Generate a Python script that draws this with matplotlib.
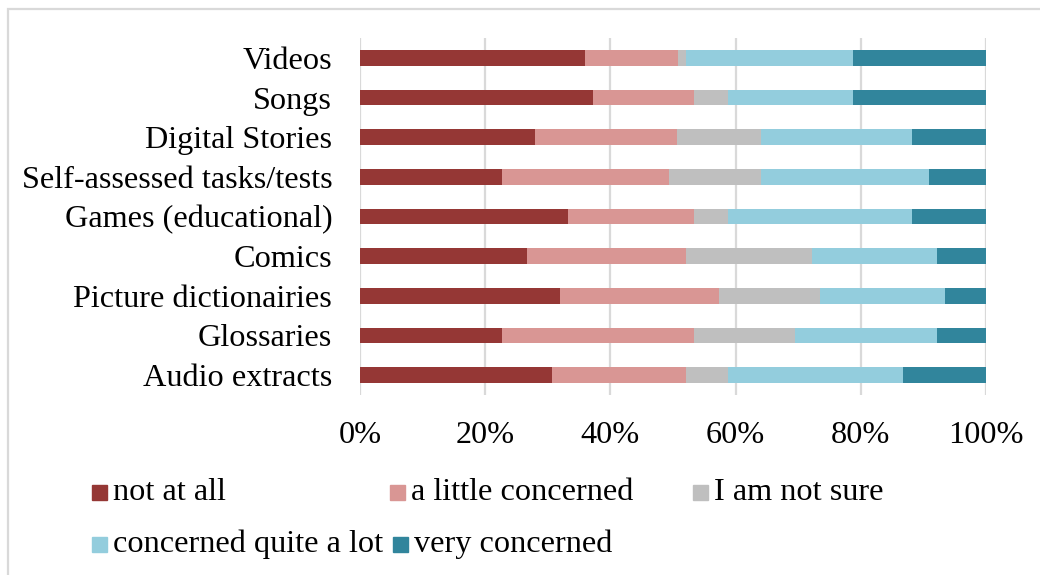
import matplotlib.pyplot as plt
from matplotlib.patches import Rectangle
import numpy as np

categories = [
    "Videos", "Songs", "Digital Stories", "Self-assessed tasks/tests",
    "Games (educational)", "Comics", "Picture dictionairies", "Glossaries",
    "Audio extracts",
]
series_names = [
    "not at all", "a little concerned", "I am not sure",
    "concerned quite a lot", "very concerned",
]
not_at_all = [36.0, 37.3, 28.0, 22.7, 33.3, 26.7, 32.0, 22.7, 30.7]
a_little = [14.8, 16.0, 22.7, 26.7, 20.0, 25.4, 25.4, 30.6, 21.4]
not_sure = [1.3, 5.5, 13.4, 14.7, 5.5, 20.1, 16.1, 16.2, 6.7]
quite_a_lot = [26.7, 20.0, 24.1, 26.8, 29.4, 20.0, 20.0, 22.7, 28.0]
very = [21.2, 21.2, 11.8, 9.1, 11.8, 7.8, 6.5, 7.8, 13.2]
ticks = [0, 20, 40, 60, 80, 100]

colors = ["#953735", "#D99694", "#BFBFBF", "#93CDDD", "#31859C"]

plt.rcParams["font.family"] = ["Liberation Serif", "DejaVu Serif"]
FS = 23.2

fig = plt.figure(figsize=(10.4, 5.75), dpi=100)
ax = fig.add_axes([360 / 1040, 1 - 395 / 575, 626 / 1040, 357 / 575])

data = np.array([not_at_all, a_little, not_sure, quite_a_lot, very])
data = data / data.sum(axis=0) * 100
y = np.arange(len(categories))
left = np.zeros(len(categories))
for vals, col, name in zip(data, colors, series_names):
    ax.barh(y, vals, left=left, height=0.4, color=col, label=name, zorder=2)
    left += vals

ax.set_ylim(len(categories) - 0.5, -0.5)
ax.set_xlim(0, 100)
ax.set_yticks(y)
ax.set_yticklabels(categories, fontsize=FS)
ax.set_xticks(ticks)
ax.set_xticklabels([f"{t}%" for t in ticks], fontsize=FS)
ax.tick_params(axis="both", length=0)
ax.tick_params(axis="y", pad=20)
ax.tick_params(axis="x", pad=19)
for s in ax.spines.values():
    s.set_visible(False)
ax.grid(axis="x", color="#D9D9D9", linewidth=1.6, zorder=0)
ax.set_axisbelow(True)

# legend laid out like the original (flowing rows)
legend_pos = [(92, 492), (390, 492), (693, 492), (92, 544), (393, 544)]
for (px, py), col, name in zip(legend_pos, colors, series_names):
    fig.patches.append(Rectangle(
        (px / 1040, 1 - (py + 7.5) / 575), 15 / 1040, 15 / 575,
        transform=fig.transFigure, color=col, figure=fig))
    fig.text((px + 21) / 1040, 1 - py / 575, name, fontsize=FS,
             va="center", ha="left")

# outer frame
fig.patches.append(Rectangle(
    (7.5 / 1040, -0.1), 1.2, 1.1 - 8.5 / 575, transform=fig.transFigure,
    fill=False, edgecolor="#D9D9D9", linewidth=1.6, figure=fig))

fig.savefig("out.png", dpi=100)
